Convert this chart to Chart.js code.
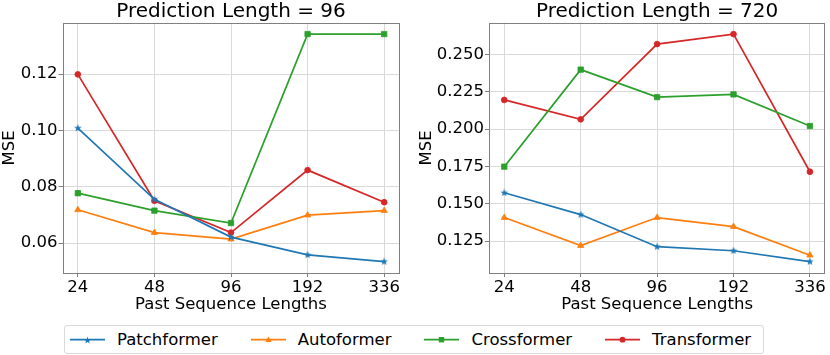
<!DOCTYPE html>
<html lang="en">
<head>
<meta charset="UTF-8">
<title>MSE vs Past Sequence Lengths</title>
<script src="https://cdn.jsdelivr.net/npm/chart.js@4.4.0/dist/chart.umd.min.js"></script>
<style>
    body { margin: 0; background: #fff; font-family: 'DejaVu Sans', sans-serif; }
    #wrap { position: relative; width: 830px; height: 355px; overflow: hidden; }
    .plot { position: absolute; top: 0; }
    #legend {
        position: absolute; left: 64px; top: 325px; width: 700px; height: 29px;
        border: 1px solid #d9d9d9; border-radius: 3px; box-sizing: border-box;
        display: flex; align-items: center; padding-left: 5px;
        font-size: 16.5px; color: #000;
    }
    .item { display: flex; align-items: center; margin-right: 33px; }
    .item svg { margin-right: 12px; }
</style>
</head>
<body>
<div id="wrap">
    <div class="plot" style="left:0"><canvas id="chart96" width="410" height="320"></canvas></div>
    <div class="plot" style="left:415px"><canvas id="chart720" width="415" height="320"></canvas></div>
    <div id="legend"></div>
</div>
<script>
    // past sequence lengths (x categories)
    const seqLens = ['24', '48', '96', '192', '336'];
    const models = ['Patchformer', 'Autoformer', 'Crossformer', 'Transformer'];

    // prediction length = 96
    const patch96 = [0.1008, 0.0755, 0.0621, 0.0558, 0.0534];
    const auto96 = [0.0718, 0.0637, 0.0614, 0.0699, 0.0715];
    const cross96 = [0.0777, 0.0715, 0.0671, 0.1342, 0.1342];
    const trans96 = [0.1199, 0.0750, 0.0637, 0.0859, 0.0745];

    // prediction length = 720
    const patch720 = [0.1573, 0.1427, 0.1212, 0.1185, 0.1112];
    const auto720 = [0.1407, 0.1219, 0.1407, 0.1346, 0.1155];
    const cross720 = [0.1748, 0.2398, 0.2214, 0.2232, 0.2020];
    const trans720 = [0.2195, 0.2065, 0.2569, 0.2636, 0.1714];

    const yTicks96 = [0.06, 0.08, 0.10, 0.12];
    const yTicks720 = [0.125, 0.150, 0.175, 0.200, 0.225, 0.250];

    const colors = ['#1f77b4', '#ff7f0e', '#2ca02c', '#d62728'];

    Chart.defaults.font.family = "'DejaVu Sans', sans-serif";
    Chart.defaults.font.size = 16.5;
    Chart.defaults.color = '#000';
    Chart.defaults.animation = false;

    // filled five point star, used as a point style
    function starCanvas(color, r) {
        const s = Math.ceil(r * 2 + 2);
        const c = document.createElement('canvas');
        c.width = s; c.height = s;
        const g = c.getContext('2d');
        g.fillStyle = color;
        g.beginPath();
        for (let i = 0; i < 10; i++) {
            const rad = i % 2 ? r * 0.42 : r;
            const a = -Math.PI / 2 + i * Math.PI / 5;
            g.lineTo(s / 2 + rad * Math.cos(a), s / 2 + rad * Math.sin(a));
        }
        g.closePath();
        g.fill();
        return c;
    }

    const pointStyles = [starCanvas(colors[0], 4), 'triangle', 'rect', 'circle'];
    const pointRadii = [4, 3.6, 3.8, 2.9];

    // axes frame on all four sides, like matplotlib spines
    const framePlugin = {
        id: 'frame',
        afterDraw(chart) {
            const a = chart.chartArea, c = chart.ctx;
            c.save();
            c.strokeStyle = '#808080';
            c.lineWidth = 1;
            c.strokeRect(Math.round(a.left) + 0.5, Math.round(a.top) + 0.5,
                Math.round(a.right - a.left) - 1, Math.round(a.bottom - a.top));
            c.restore();
        }
    };

    const gridOpts = { color: '#d9d9d9', lineWidth: 1, drawTicks: true, tickLength: 4, tickColor: '#808080', tickWidth: 1 };

    function makeChart(id, title, series, yTicks, decimals, yWidth, rightPad, yTitlePad) {
        const all = series.flat();
        const lo = Math.min(...all), hi = Math.max(...all);
        const m = (hi - lo) * 0.05;

        const datasets = series.map(function (vals, k) {
            return {
                label: models[k],
                data: vals.map((v, i) => ({ x: i, y: v })),
                borderColor: colors[k],
                backgroundColor: colors[k],
                pointBackgroundColor: colors[k],
                pointBorderColor: colors[k],
                pointBorderWidth: 0.8,
                pointStyle: pointStyles[k],
                pointRadius: pointRadii[k],
                borderWidth: 1.7,
                tension: 0
            };
        });

        return new Chart(document.getElementById(id), {
            type: 'line',
            data: { datasets: datasets },
            plugins: [framePlugin],
            options: {
                responsive: false,
                layout: { padding: { left: 0, right: rightPad, top: 0, bottom: 0 } },
                plugins: {
                    legend: { display: false },
                    tooltip: { enabled: false },
                    title: {
                        display: true,
                        text: title,
                        fullSize: false,
                        font: { size: 20, weight: 'normal', lineHeight: 1 },
                        padding: { top: 2, bottom: 0.7 },
                        color: '#000'
                    }
                },
                scales: {
                    x: {
                        type: 'linear',
                        min: -0.2,
                        max: seqLens.length - 0.8,
                        afterBuildTicks: function (s) {
                            s.ticks = seqLens.map((_, i) => ({ value: i }));
                        },
                        afterFit: function (s) { s.height = 47; },
                        ticks: {
                            font: { size: 16.5 },
                            padding: 1,
                            maxRotation: 0,
                            callback: v => seqLens[v]
                        },
                        grid: gridOpts,
                        border: { display: false },
                        title: {
                            display: true,
                            text: 'Past Sequence Lengths',
                            font: { size: 16.5 },
                            padding: { top: 0, bottom: 5 }
                        }
                    },
                    y: {
                        min: lo - m,
                        max: hi + m,
                        afterBuildTicks: function (s) {
                            s.ticks = yTicks.map(v => ({ value: v }));
                        },
                        afterFit: function (s) { s.width = yWidth; },
                        ticks: {
                            font: { size: 16.5 },
                            padding: 1,
                            callback: v => v.toFixed(decimals)
                        },
                        grid: gridOpts,
                        border: { display: false },
                        title: {
                            display: true,
                            text: 'MSE',
                            font: { size: 16.5 },
                            padding: { top: yTitlePad, bottom: 0 }
                        }
                    }
                }
            }
        });
    }

    makeChart('chart96', 'Prediction Length = 96',
        [patch96, auto96, cross96, trans96], yTicks96, 2, 62.5, 10.5, 0.3);
    makeChart('chart720', 'Prediction Length = 720',
        [patch720, auto720, cross720, trans720], yTicks720, 3, 74, 3.3, 1.8);

    // shared legend below both plots
    const markerSvg = [
        '<polygon points="17.5,2.5 18.4,5.2 21.3,5.2 19,6.9 19.8,9.6 17.5,8 15.2,9.6 16,6.9 13.7,5.2 16.6,5.2" />',
        '<polygon points="17.5,2.5 20.6,7.9 14.4,7.9" />',
        '<rect x="14.8" y="3" width="5.4" height="5.4" />',
        '<circle cx="17.5" cy="5.7" r="2.9" />'
    ];
    const legend = document.getElementById('legend');
    models.forEach(function (name, k) {
        const it = document.createElement('div');
        it.className = 'item';
        it.innerHTML = '<svg width="35" height="12" viewBox="0 0 35 12" fill="' + colors[k] + '">' +
            '<line x1="0" y1="5.7" x2="35" y2="5.7" stroke="' + colors[k] + '" stroke-width="1.7" />' +
            markerSvg[k] + '</svg><span>' + name + '</span>';
        legend.appendChild(it);
    });
</script>
</body>
</html>
